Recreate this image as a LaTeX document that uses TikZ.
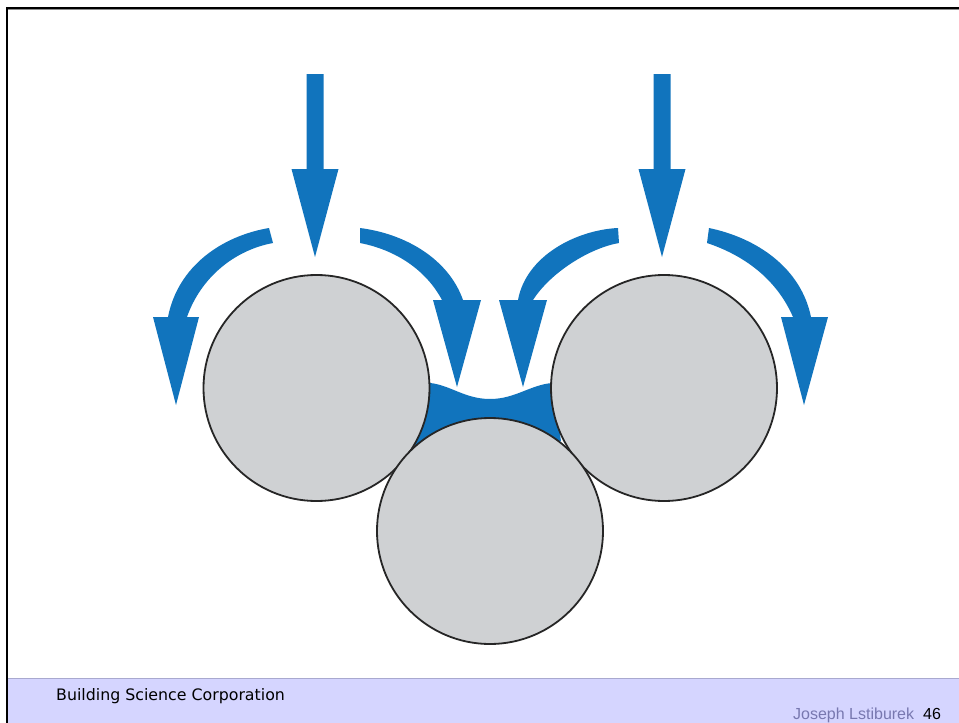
\documentclass[tikz,border=0pt]{standalone}
\usepackage{fontspec}
\setmainfont{Liberation Sans}
\newfontfamily\vfont{DejaVu Sans}
\definecolor{flow}{HTML}{1174BD}
\definecolor{stone}{HTML}{CFD1D3}
\definecolor{band}{HTML}{D5D5FF}
\definecolor{bandline}{HTML}{A9A9CF}
\definecolor{authorc}{HTML}{7878B0}
\tikzset{
  stone/.style={draw=black!85,line width=1.8pt,fill=stone},
  flowfill/.style={fill=flow,draw=none},
  foot/.style={inner sep=0pt,anchor=base west}
}
\begin{document}
\begin{tikzpicture}[x=1pt,y=-1pt]
\useasboundingbox (0,0) rectangle (959,723);
\fill[white] (0,0) rectangle (959,723);
% footer band and frame
\fill[band] (7,678) rectangle (959,723);
\draw[bandline,line width=1pt] (7,678) -- (959,678);
\fill[black!45] (7,9) rectangle (959,10);
\fill[black] (6,7) rectangle (959,9.2);
\fill[black] (6,7) rectangle (7.6,723);
% water film
\fill[flowfill] (430,383) .. controls (450,385) and (465,399) .. (490,399)
  .. controls (515,399) and (530,385) .. (552,383)
  -- (561,441) -- (490,470) -- (414,448) -- cycle;
% straight arrows
\foreach \c in {315,662}{
  \fill[flowfill] (\c-8.5,74) -- (\c+8.5,74) -- (\c+8.5,169) -- (\c+23.5,169)
    -- (\c,257) -- (\c-23.5,169) -- (\c-8.5,169) -- cycle;
}
% left group: curved arrows
\fill[flowfill] (269,228) .. controls (222,236) and (178,266) .. (168,317)
  -- (153,317) -- (176,405) -- (199,317) -- (187,317)
  .. controls (201,277) and (235,250) .. (273,243) -- cycle;
\fill[flowfill] (360,228) .. controls (407,234) and (449,260) .. (463,300)
  -- (481,300) -- (457,387) -- (433,300) -- (442,300)
  .. controls (426,270) and (396,250) .. (360,243) -- cycle;
% right group: curved arrows
\fill[flowfill] (618,228) .. controls (576,230) and (526,256) .. (518,300)
  -- (499,300) -- (523,387) -- (547,300) -- (533,300)
  .. controls (551,272) and (590,248) .. (619,243) -- cycle;
\fill[flowfill] (709,228) .. controls (757,238) and (801,268) .. (811,317)
  -- (828,317) -- (804,405) -- (781,317) -- (793,317)
  .. controls (776,278) and (743,255) .. (707,243) -- cycle;
% stones
\draw[stone] (316.5,388) circle[radius=113];
\draw[stone] (664,388) circle[radius=113];
\draw[stone] (490,531) circle[radius=113];
% footer text
\node[foot] (org) at (56,700) {\vfont\fontsize{15.8}{18}\selectfont Building Science Corporation};
\node[foot,text=authorc] (author) at (793,719) {\fontsize{16}{18}\selectfont Joseph Lstiburek};
\node[foot] (page) at (923,719) {\fontsize{16}{18}\selectfont 46};
\end{tikzpicture}
\end{document}
